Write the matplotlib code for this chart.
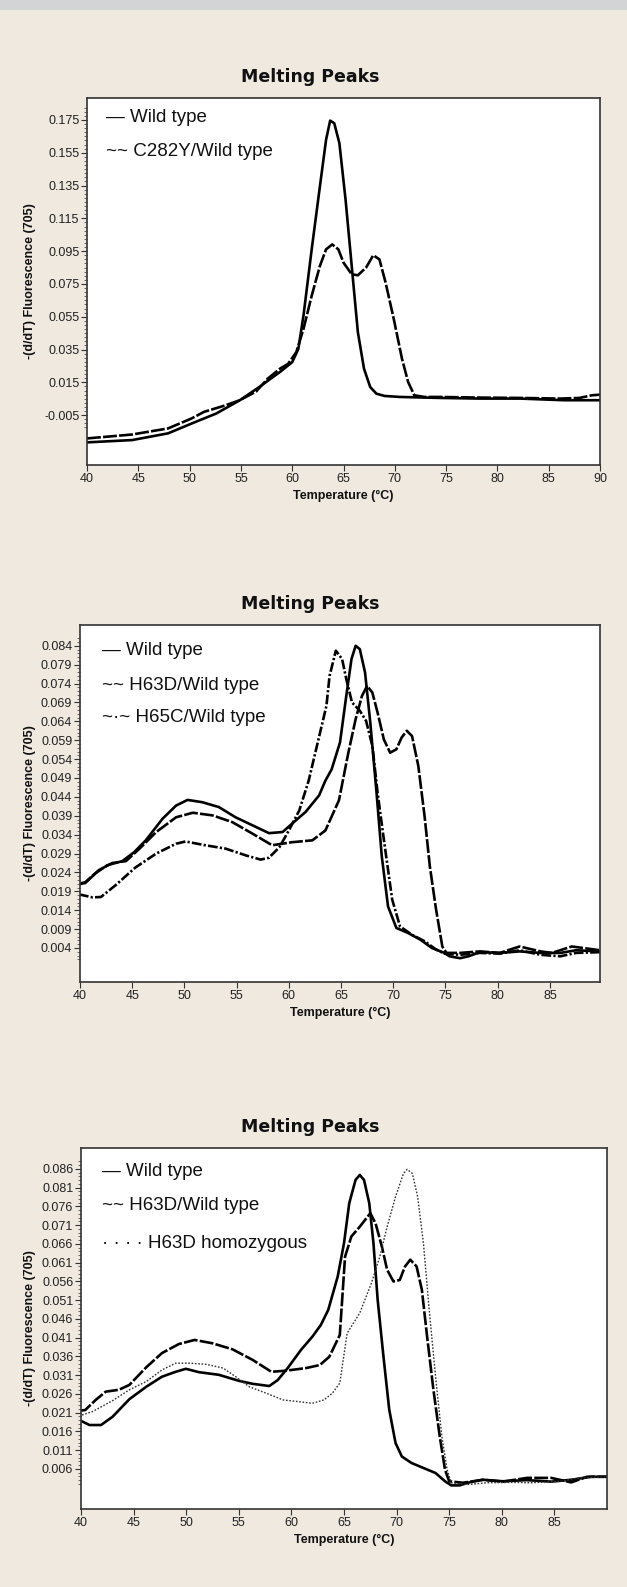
import matplotlib
matplotlib.use("Agg")
import matplotlib.pyplot as plt
from matplotlib.patches import Rectangle
from matplotlib.ticker import FixedLocator, FixedFormatter

plt.rcParams['lines.scale_dashes'] = False

# ---------------- DATA ----------------
# Panel 1: Wild type vs C282Y/Wild type
p1_wt_T = [40, 44.4, 47.9, 50.2, 52.6, 54.9, 56.8, 58.8, 60.0, 60.6, 61.1, 61.9, 62.7, 63.3, 63.7,
           64.1, 64.6, 65.2, 65.8, 66.4, 67.0, 67.6, 68.2, 69.0, 70.5, 74.4, 78.3, 82.2, 86.5, 88.0, 90]
p1_wt_v = [-0.0216, -0.0202, -0.0161, -0.0101, -0.0040, 0.0041, 0.0122, 0.0213, 0.0273, 0.0354, 0.0557,
           0.0961, 0.1345, 0.1629, 0.1746, 0.1730, 0.1608, 0.1265, 0.0860, 0.0456, 0.0233, 0.0122, 0.0081,
           0.0067, 0.0061, 0.0055, 0.0051, 0.0051, 0.0041, 0.0041, 0.0041]
p1_het_T = [40, 44.4, 47.9, 50.2, 51.4, 53.3, 54.9, 56.5, 57.6, 58.8, 59.6, 60.4, 61.1, 61.9, 62.7, 63.3,
            63.9, 64.5, 65.0, 65.8, 66.4, 67.2, 67.9, 68.5, 69.1, 69.9, 70.7, 71.3, 71.9, 72.9, 74.4,
            78.3, 82.2, 86.1, 88.0, 89.2, 90]
p1_het_v = [-0.0192, -0.0168, -0.0131, -0.0070, -0.0030, 0.0006, 0.0041, 0.0095, 0.0172, 0.0233, 0.0263,
            0.0334, 0.0476, 0.0678, 0.0860, 0.0961, 0.0991, 0.0961, 0.0880, 0.0809, 0.0803, 0.0850, 0.0925,
            0.0900, 0.0759, 0.0536, 0.0294, 0.0152, 0.0071, 0.0061, 0.0061, 0.0057, 0.0055, 0.0051, 0.0055,
            0.0071, 0.0075]
p1_yticks = [-0.005, 0.015, 0.035, 0.055, 0.075, 0.095, 0.115, 0.135, 0.155, 0.175]
p1_ylabels = ["-0.005", "0.015", "0.035", "0.055", "0.075", "0.095", "0.115", "0.135", "0.155", "0.175"]
p1_xticks = [40, 45, 50, 55, 60, 65, 70, 75, 80, 85, 90]

# Panel 2: Wild type, H63D/Wild type, H65C/Wild type
p2_wt_T = [39.9, 40.5, 41.5, 42.6, 44.05, 45.2, 46.3, 47.9, 49.2, 50.3, 51.7, 53.3, 54.9, 56.5, 58.1,
           59.4, 60.3, 61.6, 62.9, 63.5, 64.1, 64.9, 65.5, 66.0, 66.4, 66.8, 67.3, 67.8, 68.4, 68.9,
           69.5, 70.3, 71.4, 72.6, 73.7, 74.9, 75.4, 76.4, 77.2, 78.3, 80.2, 82.1, 84.1, 86.0, 87.5, 89.8]
p2_wt_v = [0.0209, 0.0212, 0.0238, 0.0259, 0.0270, 0.0294, 0.0325, 0.0382, 0.0417, 0.0432, 0.0426,
           0.0413, 0.0386, 0.0365, 0.0344, 0.0347, 0.0369, 0.0400, 0.0444, 0.0483, 0.0513, 0.0584,
           0.0707, 0.0805, 0.0840, 0.0831, 0.0769, 0.0637, 0.0451, 0.0283, 0.0150, 0.0093, 0.0080,
           0.0062, 0.0040, 0.0027, 0.0018, 0.0013, 0.0018, 0.0029, 0.0027, 0.0031, 0.0027, 0.0027,
           0.0034, 0.0031]
p2_h63d_T = [39.9, 40.5, 41.8, 43.1, 44.4, 45.7, 47.3, 49.2, 50.8, 52.7, 54.6, 56.5, 58.4, 60.3, 62.25,
             63.5, 64.8, 65.7, 66.4, 67.0, 67.5, 68.0, 68.5, 69.1, 69.7, 70.3, 70.8, 71.3, 71.8, 72.4,
             73.0, 73.5, 74.1, 74.7, 75.1, 76.4, 78.3, 80.2, 82.1, 84.1, 85.2, 87.1, 89.8]
p2_h63d_v = [0.0210, 0.0214, 0.0246, 0.0265, 0.0270, 0.0303, 0.0347, 0.0386, 0.0398, 0.0391, 0.0373,
             0.0343, 0.0312, 0.0320, 0.0325, 0.0351, 0.0431, 0.0557, 0.0646, 0.0707, 0.0734, 0.0716,
             0.0663, 0.0592, 0.0557, 0.0566, 0.0597, 0.0615, 0.0601, 0.0522, 0.0389, 0.0257, 0.0142,
             0.0044, 0.0027, 0.0027, 0.0031, 0.0027, 0.0044, 0.0031, 0.0027, 0.0044, 0.0034]
p2_h65c_T = [39.9, 41.2, 42.0, 43.4, 45.3, 47.3, 49.2, 50.1, 52.0, 53.95, 55.9, 57.3, 58.1, 59.1, 60.0,
             61.0, 61.9, 63.6, 63.9, 64.5, 65.1, 65.5, 66.05, 66.8, 67.4, 68.0, 68.5, 69.1, 69.9, 70.65,
             71.8, 73.0, 74.1, 74.9, 76.4, 78.3, 80.2, 82.1, 84.1, 86.0, 87.5, 89.8]
p2_h65c_v = [0.0182, 0.0174, 0.0175, 0.0206, 0.0253, 0.0290, 0.0316, 0.0322, 0.0312, 0.0303, 0.0285,
             0.0274, 0.0279, 0.0307, 0.0351, 0.0404, 0.0483, 0.0681, 0.0760, 0.0827, 0.0805, 0.0752,
             0.0690, 0.0668, 0.0641, 0.0575, 0.0451, 0.0327, 0.0168, 0.0097, 0.0075, 0.0058, 0.0036,
             0.0025, 0.0022, 0.0027, 0.0025, 0.0034, 0.0022, 0.0018, 0.0027, 0.0029]
p2_yticks = [0.004, 0.009, 0.014, 0.019, 0.024, 0.029, 0.034, 0.039, 0.044, 0.049, 0.054, 0.059,
             0.064, 0.069, 0.074, 0.079, 0.084]
p2_ylabels = ["0.004", "0.009", "0.014", "0.019", "0.024", "0.029", "0.034", "0.039", "0.044", "0.049",
              "0.054", "0.059", "0.064", "0.069", "0.074", "0.079", "0.084"]
p23_xticks = [40, 45, 50, 55, 60, 65, 70, 75, 80, 85]

# Panel 3: Wild type, H63D/Wild type, H63D homozygous
p3_wt_T = [39.8, 40.8, 41.9, 43.0, 44.6, 46.2, 47.7, 49.0, 49.97, 51.2, 53.1, 55.0, 56.3, 57.9, 58.7,
           59.65, 60.9, 62.0, 62.8, 63.5, 64.4, 65.0, 65.5, 66.1, 66.5, 66.9, 67.4, 67.8, 68.2, 68.75,
           69.3, 69.9, 70.5, 71.4, 72.5, 73.7, 74.6, 75.2, 76.0, 76.9, 78.2, 80.1, 82.4, 84.7, 86.6,
           88.5, 90]
p3_wt_v = [0.0191, 0.0177, 0.0177, 0.0199, 0.0246, 0.0279, 0.0306, 0.0319, 0.0327, 0.0318, 0.0311,
           0.0295, 0.0287, 0.0281, 0.0297, 0.0329, 0.0377, 0.0413, 0.0444, 0.0484, 0.0573, 0.0662,
           0.0769, 0.0831, 0.0844, 0.0831, 0.0769, 0.0662, 0.0511, 0.0360, 0.0218, 0.0129, 0.0093,
           0.0076, 0.0063, 0.0049, 0.0027, 0.0016, 0.0016, 0.0024, 0.0031, 0.0027, 0.0030, 0.0026,
           0.0031, 0.0039, 0.0039]
p3_h63d_T = [39.8, 40.4, 41.4, 42.35, 43.6, 44.6, 46.2, 47.7, 49.3, 50.8, 52.5, 54.4, 56.3, 58.1, 59.5,
             61.4, 62.7, 63.6, 64.6, 65.1, 65.7, 66.5, 67.0, 67.5, 68.0, 68.6, 69.1, 69.7, 70.3, 70.8,
             71.3, 71.9, 72.4, 72.9, 73.5, 74.1, 74.6, 75.0, 76.3, 78.2, 80.1, 82.4, 84.7, 86.6, 88.1, 90]
p3_h63d_v = [0.0215, 0.0217, 0.0244, 0.0266, 0.0271, 0.0284, 0.0331, 0.0369, 0.0393, 0.0404, 0.0395,
             0.0379, 0.0351, 0.0319, 0.0322, 0.0329, 0.0337, 0.0359, 0.0417, 0.0626, 0.0680, 0.0706,
             0.0724, 0.0742, 0.0715, 0.0653, 0.0591, 0.0560, 0.0564, 0.0600, 0.0618, 0.0600, 0.0538,
             0.0413, 0.0271, 0.0147, 0.0058, 0.0027, 0.0023, 0.0031, 0.0026, 0.0036, 0.0036, 0.0024,
             0.0039, 0.0039]
p3_hom_T = [39.8, 41.1, 43.0, 44.6, 46.2, 47.7, 49.0, 50.3, 51.9, 53.5, 54.7, 56.0, 57.6, 59.2, 60.8,
            62.0, 63.1, 63.9, 64.6, 65.3, 66.5, 67.6, 68.4, 69.1, 69.9, 70.65, 71.0, 71.5, 72.0, 72.55,
            73.1, 73.7, 74.3, 74.8, 75.2, 76.7, 78.6, 80.9, 82.8, 85.5, 87.4, 90]
p3_hom_v = [0.0201, 0.0213, 0.0242, 0.0271, 0.0293, 0.0324, 0.0342, 0.0342, 0.0339, 0.0329, 0.0306,
            0.0279, 0.0262, 0.0244, 0.0239, 0.0235, 0.0244, 0.0262, 0.0289, 0.0422, 0.0476, 0.0555,
            0.0626, 0.0706, 0.0786, 0.0848, 0.0859, 0.0848, 0.0786, 0.0662, 0.0484, 0.0307, 0.0147,
            0.0058, 0.0023, 0.0018, 0.0023, 0.0024, 0.0023, 0.0027, 0.0036, 0.0039]
p3_yticks = [0.006, 0.011, 0.016, 0.021, 0.026, 0.031, 0.036, 0.041, 0.046, 0.051, 0.056, 0.061,
             0.066, 0.071, 0.076, 0.081, 0.086]
p3_ylabels = ["0.006", "0.011", "0.016", "0.021", "0.026", "0.031", "0.036", "0.041", "0.046", "0.051",
              "0.056", "0.061", "0.066", "0.071", "0.076", "0.081", "0.086"]

title_text = "Melting Peaks"
ylabel_text = "-(d/dT) Fluorescence (705)"
xlabel_text = "Temperature (\u00b0C)"

# ---------------- FIGURE ----------------
W, H = 627, 1587
BG = '#efe9e0'
fig = plt.figure(figsize=(W / 100, H / 100), dpi=100)
fig.patch.set_facecolor(BG)
fig.add_artist(Rectangle((0, 1 - 10 / H), 1, 10 / H, transform=fig.transFigure,
                         facecolor='#d3d4d6', edgecolor='none'))

TICKFONT = ['Liberation Sans', 'DejaVu Sans']
LEGFONT = ['Liberation Sans Narrow', 'Liberation Sans', 'DejaVu Sans']
INK = '#111111'

def fx(x):
    return x / W

def fy(y):
    return 1 - y / H

def make_axes(l, t, r, b, xlim, ylim, xticks, yticks, ylabels, minor_lo, minor_hi, minor_step):
    ax = fig.add_axes([l / W, 1 - b / H, (r - l) / W, (b - t) / H])
    ax.set_facecolor('white')
    ax.set_xlim(*xlim)
    ax.set_ylim(*ylim)
    ax.xaxis.set_major_locator(FixedLocator(xticks))
    ax.yaxis.set_major_locator(FixedLocator(yticks))
    ax.yaxis.set_major_formatter(FixedFormatter(ylabels))
    n = int(round((minor_hi - minor_lo) / minor_step))
    minors = [minor_lo + i * minor_step for i in range(n + 1)]
    ax.yaxis.set_minor_locator(FixedLocator(minors))
    ax.tick_params(axis='both', which='major', direction='out', length=4, width=0.8,
                   colors='#333333', labelsize=9, pad=1.5, labelcolor='#222222')
    ax.tick_params(axis='y', which='minor', direction='out', length=2, width=0.6, colors='#555555')
    for lab in ax.get_xticklabels() + ax.get_yticklabels():
        lab.set_family(TICKFONT)
    for s in ax.spines.values():
        s.set_color('#333333')
        s.set_linewidth(1.2)
    fig.text(fx(310), fy(t - 21), title_text, ha='center', va='center', fontsize=12.5,
             fontweight='bold', family=['DejaVu Sans'], color=INK)
    fig.text(fx(30), fy((t + b) / 2), ylabel_text, rotation=90, ha='center', va='center',
             fontsize=9, fontweight='bold', family=TICKFONT, color=INK)
    fig.text(fx((l + r) / 2), fy(b + 31), xlabel_text, ha='center', va='center',
             fontsize=9, fontweight='bold', family=TICKFONT, color=INK)
    return ax

def legend_text(x, y, s):
    fig.text(fx(x), fy(y), s, ha='left', va='center', fontsize=13.5, family=LEGFONT, color=INK)

LW = 1.9
DASH = (10, 1.6)
DASHDOT = (7, 1.6, 1.6, 1.6)

# Panel 1
ax1 = make_axes(87, 98, 600, 465, (40, 90), (-0.0354, 0.1884), p1_xticks, p1_yticks, p1_ylabels,
                -0.0125, 0.1825, 0.0025)
ax1.plot(p1_wt_T, p1_wt_v, color='black', lw=LW, solid_joinstyle='round')
ax1.plot(p1_het_T, p1_het_v, color='black', lw=LW, dashes=DASH)
legend_text(106, 117, "\u2014 Wild type")
legend_text(106, 152, "~~ C282Y/Wild type")

# Panel 2
ax2 = make_axes(80, 625, 600, 982, (40, 89.8), (-0.0050, 0.0895), p23_xticks, p2_yticks, p2_ylabels,
                0.001, 0.086, 0.001)
ax2.plot(p2_wt_T, p2_wt_v, color='black', lw=LW)
ax2.plot(p2_h63d_T, p2_h63d_v, color='black', lw=LW, dashes=DASH)
ax2.plot(p2_h65c_T, p2_h65c_v, color='black', lw=LW, dashes=DASHDOT)
legend_text(102, 651, "\u2014 Wild type")
legend_text(102, 685, "~~ H63D/Wild type")
legend_text(102, 718, "~\u00b7~ H65C/Wild type")

# Panel 3
ax3 = make_axes(81, 1148, 607, 1509, (40, 90), (-0.0047, 0.0916), p23_xticks, p3_yticks, p3_ylabels,
                0.002, 0.088, 0.001)
ax3.plot(p3_wt_T, p3_wt_v, color='black', lw=LW)
ax3.plot(p3_h63d_T, p3_h63d_v, color='black', lw=LW, dashes=DASH)
ax3.plot(p3_hom_T, p3_hom_v, color='#333333', lw=1.0, dashes=(1.2, 1.2))
legend_text(102, 1172, "\u2014 Wild type")
legend_text(102, 1206, "~~ H63D/Wild type")
legend_text(102, 1243, "\u00b7 \u00b7 \u00b7 \u00b7 H63D homozygous")

fig.savefig("out.png", dpi=100, facecolor=BG)
